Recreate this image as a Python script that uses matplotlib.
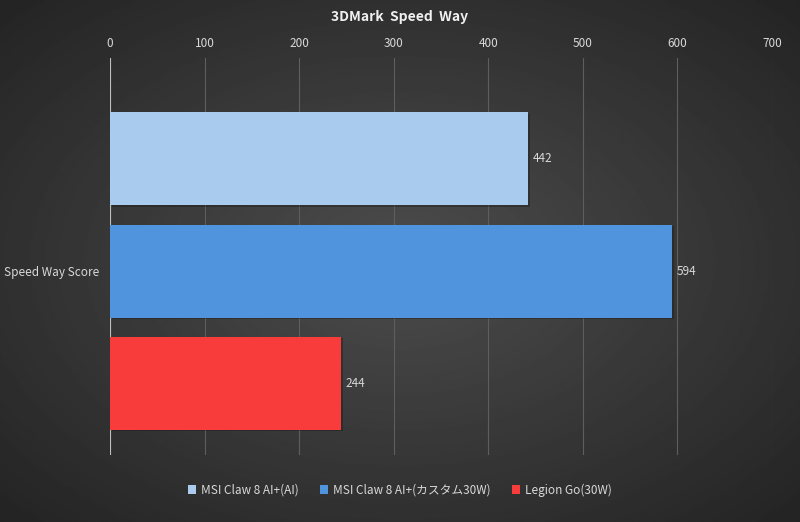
import numpy as np
import matplotlib.pyplot as plt

plt.rcParams['font.family'] = ['Noto Sans CJK JP', 'DejaVu Sans']

category = 'Speed Way Score'
series = ['MSI Claw 8 AI+(AI)', 'MSI Claw 8 AI+(カスタム30W)', 'Legion Go(30W)']
values = [442, 594, 244]
colors = ['#a9cbee', '#4f94dc', '#f83b3b']

fig = plt.figure(figsize=(8, 5.22), dpi=100)

# radial background
bg = fig.add_axes([0, 0, 1, 1], zorder=0)
yy, xx = np.mgrid[-1:1:300j, -1:1:460j]
r = np.sqrt(xx**2 + yy**2) / np.sqrt(2)
bg.imshow(0.30 - 0.16 * r, cmap='gray', vmin=0, vmax=1, aspect='auto',
          extent=[0, 1, 0, 1])
bg.axis('off')

ax = fig.add_axes([110/800, 1 - 455/522, 662/800, 397/522], zorder=1)
ax.patch.set_alpha(0)

pos = [2, 1, 0]
for p, v, c, s in zip(pos, values, colors, series):
    ax.barh(p - 0.015, v, height=0.83, color='#151515', alpha=0.35, left=2)
    ax.barh(p, v, height=0.83, color=c, label=s, zorder=3)
    ax.text(v + 5, p, str(v), color='#d9d9d9', va='center', fontsize=8.5, zorder=4)

ax.set_xlim(0, 700)
ax.set_ylim(-0.64, 2.9)
ax.set_xticks(range(0, 701, 100))
ax.xaxis.tick_top()
ax.tick_params(axis='x', colors='#d9d9d9', labelsize=8.5, length=0, pad=6)
ax.set_yticks([1])
ax.set_yticklabels([category])
ax.tick_params(axis='y', colors='#d9d9d9', labelsize=8.5, length=0, pad=8)
ax.grid(axis='x', color='#5e5e5e', linewidth=0.8)
ax.set_axisbelow(True)
for s in ax.spines.values():
    s.set_visible(False)
ax.axvline(0, color='#bfbfbf', linewidth=0.8, zorder=2)

fig.text(0.5, 1 - 17/522, '3DMark  Speed  Way', color='#f0f0f0', fontsize=10,
         fontweight='bold', ha='center', va='center')

handles, labels = ax.get_legend_handles_labels()
fig.legend(handles, labels, loc='center', bbox_to_anchor=(0.5, 1 - 490/522),
           ncol=3, frameon=False, fontsize=8.5, labelcolor='#d9d9d9',
           handlelength=0.7, handleheight=0.7, handletextpad=0.4, columnspacing=1.8)

fig.savefig('out.png', dpi=100)
